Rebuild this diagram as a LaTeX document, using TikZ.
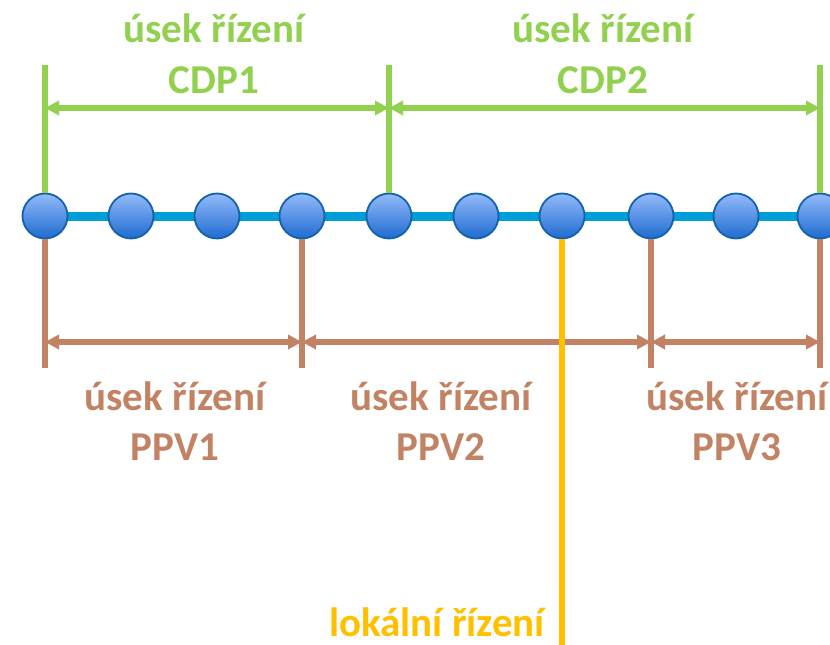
\documentclass[tikz,border=0pt]{standalone}
\usepackage{fontspec}
\setmainfont{Carlito}
\usetikzlibrary{arrows.meta, positioning, calc, backgrounds}
\definecolor{cdpgreen}{RGB}{146, 208, 80}
\definecolor{ppvbrown}{RGB}{194, 131, 100}
\definecolor{localgold}{RGB}{255, 192, 0}
\definecolor{linkblue}{RGB}{0, 158, 214}
\definecolor{stopedge}{RGB}{20, 98, 170}
\definecolor{stoptop}{RGB}{148, 186, 250}
\definecolor{stopbottom}{RGB}{30, 108, 208}

\begin{document}
\begin{tikzpicture}[x=1pt, y=-1pt,
  stop/.style={circle, draw=stopedge, line width=1.8pt, minimum size=45pt, inner sep=0pt,
    top color=stoptop, bottom color=stopbottom},
  txt/.style={font=\fontsize{41}{49}\selectfont\bfseries, inner sep=0pt, anchor=base},
  tick/.style={line width=5.5pt},
  span/.style={line width=5.5pt, {Triangle[length=14pt, width=14pt]}-{Triangle[length=14pt, width=14pt]}}]
  \useasboundingbox (0,0) rectangle (830,645);

  % stations on the line
  \foreach \x [count=\i] in {45, 131, 217, 302, 389, 476, 562, 651, 736, 820} {
    \node[stop] (c\i) at (\x, 216) {};
  }
  \begin{scope}[on background layer]
    \draw[linkblue, line width=9pt] (c1) -- (c10);
  \end{scope}

  % CDP sections
  \foreach \i in {1, 5, 10} {
    \coordinate (gt\i) at (c\i |- 0, 65);
    \coordinate (ga\i) at (c\i |- 0, 108);
    \draw[tick, cdpgreen] (c\i.north) -- (gt\i);
  }
  \draw[span, cdpgreen] (ga1) -- (ga5);
  \draw[span, cdpgreen] (ga5) -- (ga10);

  % PPV sections
  \foreach \i in {1, 4, 8, 10} {
    \coordinate (pb\i) at (c\i |- 0, 368);
    \coordinate (pa\i) at (c\i |- 0, 342);
    \draw[tick, ppvbrown] (c\i.south) -- (pb\i);
  }
  \draw[span, ppvbrown] (pa1) -- (pa4);
  \draw[span, ppvbrown] (pa4) -- (pa8);
  \draw[span, ppvbrown] (pa8) -- (pa10);

  % local control
  \coordinate (lend) at (c7 |- 0, 645);
  \draw[localgold, line width=5.5pt] (c7.south) -- (lend);

  \node[txt, cdpgreen] (cdp1a) at (214, 42) {úsek řízení};
  \node[txt, cdpgreen] (cdp1) at (214, 93) {CDP1};
  \node[txt, cdpgreen] (cdp2a) at (603, 42) {úsek řízení};
  \node[txt, cdpgreen] (cdp2) at (603, 93) {CDP2};

  \foreach \x/\lbl in {175/PPV1, 441/PPV2, 737/PPV3} {
    \node[txt, ppvbrown] (ppva\lbl) at (\x, 410) {úsek řízení};
    \node[txt, ppvbrown] (ppv\lbl) at (\x, 460) {\lbl};
  }

  \node[txt, localgold] (local) at (437, 636) {lokální řízení};
\end{tikzpicture}
\end{document}
